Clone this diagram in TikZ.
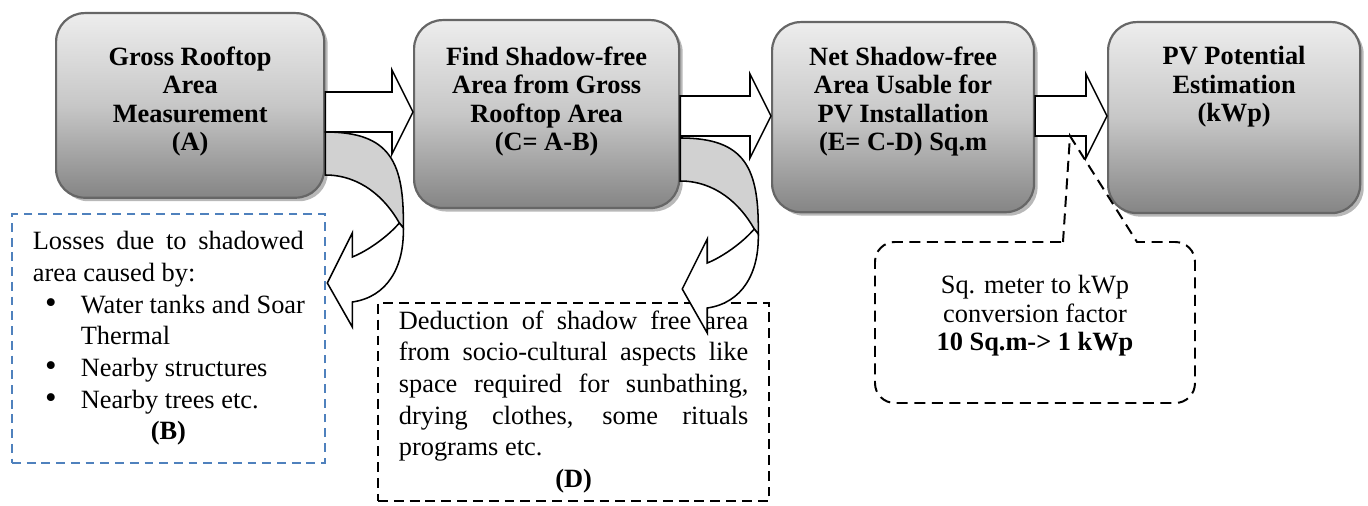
\documentclass[tikz,border=0pt]{standalone}
\usepackage{fontspec}
\setmainfont{Liberation Serif}
\usetikzlibrary{shadows,calc}
\definecolor{blueline}{RGB}{79,129,189}

\tikzset{
  stage/.style={anchor=north west, inner sep=0pt, rounded corners=13pt, draw=black!60, line width=1pt,
    top color=black!7, bottom color=black!48, middle color=black!22,
    drop shadow={shadow xshift=1.6pt, shadow yshift=-1.6pt, fill=black!35, opacity=.8}},
  stagetext/.style={anchor=north, align=center, inner sep=0pt, font=\fontsize{12}{13}\selectfont\bfseries},
  blockarrow/.style={draw, fill=white, line width=0.7pt, line join=miter},
  note/.style={anchor=north west, inner xsep=9.5pt, line width=0.9pt, align=justify,
    font=\fontsize{12}{14.4}\selectfont\setlength{\parindent}{0pt}},
  callout/.style={dashed, dash pattern=on 5pt off 3pt, line width=0.9pt},
  pics/bentarrow/.style={code={
    \draw[fill=black!18, line width=0.7pt] (0,0) .. controls (65,0) and (79,30) .. (78,96) -- (74,91)
      .. controls (60,66) and (35,43) .. (0,43) -- cycle;
    \draw[fill=white, line width=0.7pt, line join=miter] (27,125) .. controls (42,119) and (62,105) .. (74,91)
      -- (78,96) .. controls (79,135) and (62,165) .. (27,170) -- (27,195) -- (2,151) -- (27,101) -- cycle;
  }}
}
\newcommand{\bulletitem}{\leavevmode\llap{{\fontsize{15}{14}\selectfont\textbullet}\hspace{11pt}}}

\begin{document}
\begin{tikzpicture}[x=0.455pt, y=-0.455pt]
  \useasboundingbox (0,0) rectangle (1368,506);
  % main stages
  \node[stage, minimum width=122pt, minimum height=84pt] (gross) at (55,12) {};
  \node[stagetext] (gross-t) at (gross.north |- 0,46) {Gross Rooftop\\Area\\Measurement\\(A)};
  \node[stage, minimum width=120.6pt, minimum height=85.5pt] (free) at (413,19) {};
  \node[stagetext] (free-t) at (free.north |- 0,46) {Find Shadow-free\\Area from Gross\\Rooftop Area\\(C= A-B)};
  \node[stage, minimum width=119.2pt, minimum height=86.5pt] (net) at (771,21) {};
  \node[stagetext] (net-t) at (net.north |- 0,46) {Net Shadow-free\\Area Usable for\\PV Installation\\(E= C-D) Sq.m};
  \node[stage, minimum width=114.7pt, minimum height=86.9pt] (pv) at (1107,21) {};
  \node[stagetext] (pv-t) at (pv.north |- 0,46) {PV Potential\\Estimation\\(kWp)};
  % block arrows
  \foreach \from/\to/\y in {gross/free/112, free/net/116, net/pv/116}
    \draw[blockarrow] ($(\from.east |- 0,\y)+(0,-20)$) -- ($(\to.west |- 0,\y)+(-21,-20)$) -- ++(0,-22)
      -- (\to.west |- 0,\y) -- ++(-21,42) -- ++(0,-22) -- ($(\from.east |- 0,\y)+(0,20)$) -- cycle;
  % deductions
  \node[note, draw=blueline, dashed, dash pattern=on 4pt off 2.7pt, inner ysep=8pt, text width=123.3pt] (losses) at (11,213)
    {Losses due to shadowed area caused by:\par
     {\raggedright\leftskip=21.8pt
      \bulletitem\mbox{Water tanks and Soar}\\Thermal\par
      \bulletitem Nearby structures\par
      \bulletitem Nearby trees etc.\par}
     \makebox[\linewidth]{\textbf{(B)}}};
  \node[note, draw, dashed, dash pattern=on 4.5pt off 2.7pt, inner ysep=3.5pt, text width=159pt] (social) at (377,302)
    {Deduction of shadow free area\linebreak from socio-cultural aspects like\linebreak
     space required for sunbathing,\linebreak drying clothes, some rituals\linebreak programs etc.\par
     \makebox[\linewidth]{\textbf{(D)}}};
  \pic (bendB) at (gross.east |- 0,132) {bentarrow};
  \pic (bendD) at (free.east |- 0,138) {bentarrow};
  % conversion factor callout
  \coordinate (tip) at (1070,136);
  \draw[callout] (1063,242) -- (tip) -- (1137,242) [rounded corners=9pt] -- (1195,242) -- (1195,403)
    -- (875,403) -- (875,242) -- (1063,242);
  \node[anchor=north, align=center, inner sep=0pt, font=\fontsize{12}{13}\selectfont] (factor) at (1035,275)
    {Sq. meter to kWp\\conversion factor\\\textbf{10 Sq.m-> 1 kWp}};
\end{tikzpicture}
\end{document}
